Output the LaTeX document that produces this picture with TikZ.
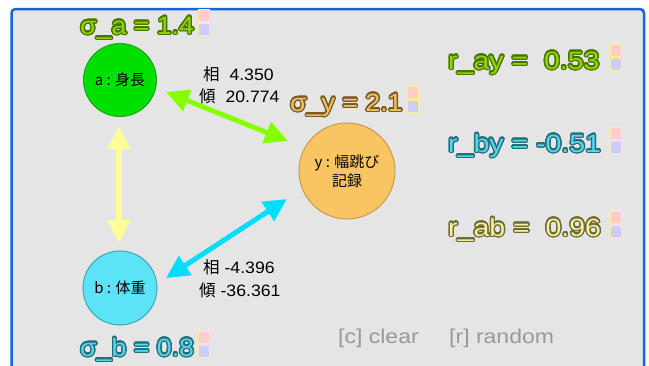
\documentclass[tikz,border=0pt]{standalone}
\usepackage{fontspec}
\setmainfont{Liberation Sans}
\newfontfamily\jp{Noto Sans CJK JP}
\newfontfamily\sigf[FakeStretch=1.07]{Liberation Sans}
\newfontfamily\rf[FakeStretch=1.14]{Liberation Sans}
\newfontfamily\hf[FakeStretch=1.15]{Liberation Sans}
\newfontfamily\cf[FakeStretch=1.07]{Liberation Sans}
\usepackage[copies]{contour}
\contournumber{24}
\contourlength{1.3pt}
\usetikzlibrary{arrows.meta}
\definecolor{framec}{HTML}{1565D8}
\definecolor{bgc}{HTML}{E5E5E5}
\definecolor{aF}{HTML}{00E000}
\definecolor{aD}{HTML}{22A022}
\definecolor{yF}{HTML}{F9C462}
\definecolor{yD}{HTML}{C8994A}
\definecolor{bF}{HTML}{5CE3F5}
\definecolor{bD}{HTML}{3AA6B8}
\definecolor{gArr}{HTML}{88FF00}
\definecolor{cArr}{HTML}{00DDFF}
\definecolor{yArr}{HTML}{FFFF99}
\definecolor{gF}{HTML}{90D800}
\definecolor{gO}{HTML}{4A7400}
\definecolor{oF}{HTML}{F5C060}
\definecolor{oO}{HTML}{7A5A28}
\definecolor{cF}{HTML}{55D8EE}
\definecolor{cO}{HTML}{256E7A}
\definecolor{lF}{HTML}{F6F09A}
\definecolor{lO}{HTML}{6E6A3A}
\definecolor{pinkc}{HTML}{FFCCCC}
\definecolor{bluec}{HTML}{CCCCFF}
\definecolor{sqb}{HTML}{FFEE99}
\definecolor{grayt}{HTML}{999999}
\tikzset{
  var/.style={circle, line width=1pt, inner sep=0pt, font=\jp\fontsize{15}{19}\selectfont, align=center},
  siglab/.style={font=\sigf\fontsize{25}{28}\selectfont, anchor=base west, inner sep=0pt},
  rlab/.style={font=\rf\fontsize{25}{28}\selectfont, anchor=base west, inner sep=0pt},
  sqp/.style={draw=sqb, fill=pinkc, line width=0.8pt, minimum width=11pt, minimum height=11.5pt, inner sep=0pt},
  sqq/.style={draw=sqb, fill=bluec, line width=0.8pt, minimum width=11pt, minimum height=11.5pt, inner sep=0pt},
  link/.style={line width=5pt, {Triangle[length=23pt,width=22pt]}-{Triangle[length=23pt,width=22pt]}},
  coef/.style={font=\cf\fontsize{16.5}{19}\selectfont, anchor=base west, inner sep=0pt},
  hint/.style={font=\hf\fontsize{20}{23}\selectfont, text=grayt, anchor=base west, inner sep=0pt}
}
\newcommand{\outl}[3]{\contour{#1}{\textcolor{#2}{#3}}}
\begin{document}
\begin{tikzpicture}[x=1pt,y=-1pt]
\useasboundingbox (0,0) rectangle (649,365);
\fill[white] (0,0) rectangle (649,365);
\begin{scope}
\clip (0,0) rectangle (649,365);
\draw[framec, line width=2.5pt, fill=bgc, rounded corners=4pt] (11.5,9) rectangle (644,380);
\end{scope}
% variables
\node[var, fill=aF, draw=aD, minimum size=73pt] (a) at (120,80) {a : 身長};
\node[var, fill=yF, draw=yD, minimum size=96pt] (y) at (347,171) {y : 幅跳び\\記録};
\node[var, fill=bF, draw=bD, minimum size=74pt] (b) at (120,288) {b : 体重};
% arrow ends
\coordinate (ga) at (166,92);
\coordinate (gy) at (288,141);
\coordinate (cy) at (287,199);
\coordinate (cb) at (166,278);
\coordinate (ya) at (119,126);
\coordinate (yb) at (119,243);
\draw[link, gArr] (ga) -- (gy);
\draw[link, cArr] (cy) -- (cb);
\draw[link, yArr, line width=6pt] (ya) -- (yb);
% coefficients
\node[coef] (c1) at (203,80) {{\jp 相}\ \ 4.350};
\node[coef] (c2) at (199,102) {{\jp 傾}\ \ 20.774};
\node[coef] (c3) at (203,273) {{\jp 相} -4.396};
\node[coef] (c4) at (199,296) {{\jp 傾} -36.361};
% sigma labels
\node[siglab] (sa) at (80,34) {\outl{gO}{gF}{σ\_a = 1.4}};
\node[siglab] (sy) at (290,111) {\outl{oO}{oF}{σ\_y = 2.1}};
\node[siglab] (sb) at (80,356) {\outl{cO}{cF}{σ\_b = 0.8}};
% r labels
\node[rlab] (ray) at (448,69) {\outl{gO}{gF}{r\_ay = \ 0.53}};
\node[rlab] (rby) at (448,152) {\outl{cO}{cF}{r\_by = -0.51}};
\node[rlab] (rab) at (448,236) {\outl{lO}{lF}{r\_ab = \ 0.96}};
% squares
\foreach \n/\x/\y in {sa/203.5/34, sy/412.5/111, sb/203.5/356, ray/616/69, rby/616/152, rab/616/236}{
  \node[sqp] (\n p) at (\x,\y-18.5) {};
  \node[sqq] (\n q) at (\x,\y-4.5) {};
}
% hints
\node[hint] (hc) at (338,343) {[c] clear};
\node[hint] (hr) at (449,343) {[r] random};
\end{tikzpicture}
\end{document}
